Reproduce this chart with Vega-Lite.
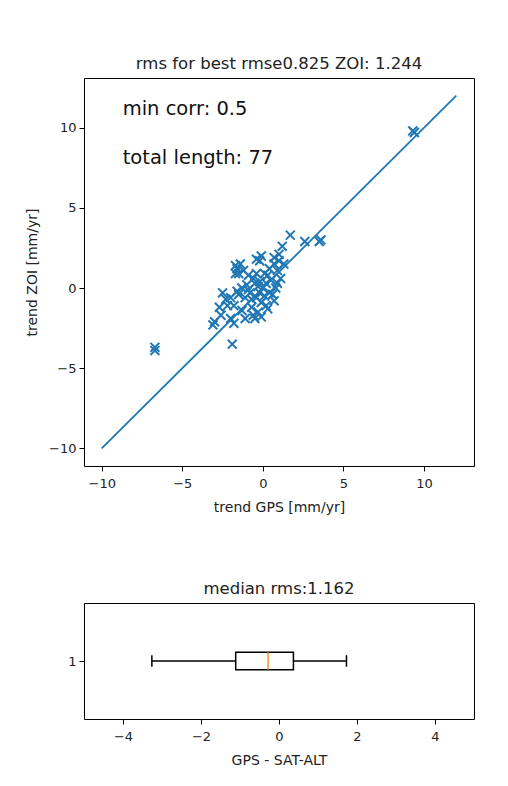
{
  "$schema": "https://vega.github.io/schema/vega-lite/v6.json",
  "background": "white",
  "padding": {"left": 25, "top": 55, "right": 0, "bottom": 0},
  "config": {
    "font": "DejaVu Sans",
    "view": {"stroke": "#000", "strokeWidth": 1},
    "axis": {
      "grid": false,
      "domain": false,
      "tickColor": "#000",
      "tickSize": 5,
      "labelColor": "#222",
      "titleColor": "#222",
      "labelFontSize": 13,
      "titleFontSize": 14,
      "titleFontWeight": "normal",
      "labelPadding": 3
    },
    "axisX": {"labelPadding": 6, "titlePadding": 10},
    "axisY": {"titlePadding": 9},
    "title": {"fontSize": 16.5, "fontWeight": "normal", "color": "#222", "offset": 6}
  },
  "spacing": 65,
  "vconcat": [
    {
      "width": 390,
      "height": 388,
      "title": "rms for best rmse0.825 ZOI: 1.244",
      "layer": [
        {
          "data": {"values": [{"gps": -10, "zoi": -10}, {"gps": 12, "zoi": 12}]},
          "mark": {"type": "line", "color": "#1f77b4", "strokeWidth": 1.8},
          "encoding": {
            "x": {"field": "gps", "type": "quantitative", "scale": {"domain": [-11.1, 13.1], "nice": false, "zero": false}, "axis": {"values": [-10, -5, 0, 5, 10], "title": "trend GPS [mm/yr]"}},
            "y": {"field": "zoi", "type": "quantitative", "scale": {"domain": [-11.1, 13.1], "nice": false, "zero": false}, "axis": {"values": [-10, -5, 0, 5, 10], "title": "trend ZOI [mm/yr]"}}
          }
        },
        {
          "data": {"values": [
            {"gps": 9.3, "zoi": 9.8}, {"gps": 9.4, "zoi": 9.7},
            {"gps": -6.7, "zoi": -3.7}, {"gps": -6.7, "zoi": -3.9},
            {"gps": -1.9, "zoi": -3.5},
            {"gps": 1.7, "zoi": 3.3}, {"gps": 2.6, "zoi": 2.9}, {"gps": 3.5, "zoi": 2.9}, {"gps": 3.6, "zoi": 3.0},
            {"gps": 1.2, "zoi": 2.6}, {"gps": 1.0, "zoi": 2.1}, {"gps": -0.1, "zoi": 2.0}, {"gps": 0.7, "zoi": 1.9},
            {"gps": -0.2, "zoi": 1.7}, {"gps": 1.3, "zoi": 1.5}, {"gps": 0.7, "zoi": 1.5}, {"gps": 0.9, "zoi": 1.1},
            {"gps": 0.1, "zoi": 0.9}, {"gps": -0.4, "zoi": 0.9}, {"gps": -1.7, "zoi": 1.4}, {"gps": -1.4, "zoi": 1.5},
            {"gps": -1.6, "zoi": 1.2}, {"gps": -1.2, "zoi": 1.1}, {"gps": -1.7, "zoi": 0.9}, {"gps": -1.5, "zoi": 0.9},
            {"gps": -0.9, "zoi": 0.8}, {"gps": -0.4, "zoi": 1.8}, {"gps": -2.5, "zoi": -0.3}, {"gps": -2.0, "zoi": -0.6},
            {"gps": -2.7, "zoi": -1.2}, {"gps": -2.2, "zoi": -1.1}, {"gps": -1.8, "zoi": -1.1}, {"gps": -3.0, "zoi": -2.1},
            {"gps": -3.1, "zoi": -2.3}, {"gps": -2.6, "zoi": -1.7}, {"gps": -2.0, "zoi": -1.9}, {"gps": -1.8, "zoi": -2.2},
            {"gps": -1.5, "zoi": -0.4}, {"gps": -0.9, "zoi": -0.1}, {"gps": -0.7, "zoi": -0.7}, {"gps": -1.3, "zoi": -1.4},
            {"gps": -1.1, "zoi": -1.9}, {"gps": -0.6, "zoi": -1.7}, {"gps": -0.3, "zoi": -1.5}, {"gps": -0.5, "zoi": -1.9},
            {"gps": 0.2, "zoi": -1.1}, {"gps": 0.7, "zoi": -0.8}, {"gps": 0.4, "zoi": -0.3}, {"gps": 0.9, "zoi": 0.3},
            {"gps": 0.6, "zoi": -0.4}, {"gps": 0.3, "zoi": -1.3}, {"gps": -0.1, "zoi": -1.8}, {"gps": -0.3, "zoi": 0.1},
            {"gps": -0.2, "zoi": 0.4}, {"gps": 0.0, "zoi": 0.0}, {"gps": 0.2, "zoi": 0.3}, {"gps": -0.5, "zoi": 0.3},
            {"gps": -0.8, "zoi": -0.3}, {"gps": 0.1, "zoi": -0.5}, {"gps": -0.4, "zoi": -0.6}, {"gps": 0.5, "zoi": 0.5},
            {"gps": -1.0, "zoi": 0.2}, {"gps": -1.3, "zoi": 0.0}, {"gps": 0.3, "zoi": 0.8}, {"gps": -0.6, "zoi": 0.6},
            {"gps": 0.8, "zoi": 0.0}, {"gps": -0.1, "zoi": -0.9}, {"gps": 1.1, "zoi": 0.6}, {"gps": -1.1, "zoi": -0.6},
            {"gps": 0.4, "zoi": 1.2}, {"gps": -2.3, "zoi": -0.7}, {"gps": -0.7, "zoi": -1.2}, {"gps": 1.0, "zoi": 1.7},
            {"gps": -0.2, "zoi": -0.3}, {"gps": -1.6, "zoi": -0.2}
          ]},
          "mark": {"type": "point", "shape": "M-1,-1L1,1M1,-1L-1,1", "filled": false, "stroke": "#1f77b4", "strokeWidth": 2, "size": 80, "opacity": 1},
          "encoding": {
            "x": {"field": "gps", "type": "quantitative"},
            "y": {"field": "zoi", "type": "quantitative"}
          }
        },
        {
          "data": {"values": [{"label": "min corr: 0.5"}]},
          "mark": {"type": "text", "align": "left", "baseline": "middle", "fontSize": 19.5, "color": "#111"},
          "encoding": {
            "x": {"datum": -8.7, "type": "quantitative"},
            "y": {"datum": 11.17, "type": "quantitative"},
            "text": {"field": "label"}
          }
        },
        {
          "data": {"values": [{"label": "total length: 77"}]},
          "mark": {"type": "text", "align": "left", "baseline": "middle", "fontSize": 19.5, "color": "#111"},
          "encoding": {
            "x": {"datum": -8.7, "type": "quantitative"},
            "y": {"datum": 8.09, "type": "quantitative"},
            "text": {"field": "label"}
          }
        }
      ]
    },
    {
      "width": 390,
      "height": 116,
      "title": "median rms:1.162",
      "data": {"values": [{"group": 1, "lower": -3.26, "q1": -1.11, "median": -0.28, "q3": 0.37, "upper": 1.73}]},
      "layer": [
        {
          "mark": {"type": "rule", "color": "#000", "strokeWidth": 1.5},
          "encoding": {
            "x": {"field": "lower", "type": "quantitative", "scale": {"domain": [-5, 5], "nice": false, "zero": false}, "axis": {"values": [-4, -2, 0, 2, 4], "title": "GPS - SAT-ALT"}},
            "x2": {"field": "q1"},
            "y": {"datum": 1, "type": "quantitative", "scale": {"domain": [0.5, 1.5], "nice": false, "zero": false}, "axis": {"values": [1], "format": "d", "title": null}}
          }
        },
        {
          "mark": {"type": "rule", "color": "#000", "strokeWidth": 1.5},
          "encoding": {
            "x": {"field": "q3", "type": "quantitative"},
            "x2": {"field": "upper"},
            "y": {"datum": 1, "type": "quantitative"}
          }
        },
        {
          "mark": {"type": "rect", "fill": "white", "stroke": "#000", "strokeWidth": 1.5},
          "encoding": {
            "x": {"field": "q1", "type": "quantitative"},
            "x2": {"field": "q3"},
            "y": {"datum": 0.925, "type": "quantitative"},
            "y2": {"datum": 1.075}
          }
        },
        {
          "mark": {"type": "rule", "color": "#000", "strokeWidth": 1.5},
          "encoding": {
            "x": {"field": "lower", "type": "quantitative"},
            "y": {"datum": 0.95, "type": "quantitative"},
            "y2": {"datum": 1.05}
          }
        },
        {
          "mark": {"type": "rule", "color": "#000", "strokeWidth": 1.5},
          "encoding": {
            "x": {"field": "upper", "type": "quantitative"},
            "y": {"datum": 0.95, "type": "quantitative"},
            "y2": {"datum": 1.05}
          }
        },
        {
          "mark": {"type": "rule", "color": "#ff7f0e", "strokeWidth": 1.3},
          "encoding": {
            "x": {"field": "median", "type": "quantitative"},
            "y": {"datum": 0.925, "type": "quantitative"},
            "y2": {"datum": 1.075}
          }
        }
      ]
    }
  ]
}
